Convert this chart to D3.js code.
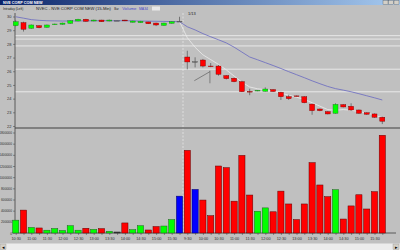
<!DOCTYPE html>
<html>
<head>
<meta charset="utf-8">
<script src="https://cdn.jsdelivr.net/npm/d3@7"></script>
<style>
  body { margin: 0; background: #c0c0c0; }
  svg { display: block; }
  text { font-family: "Liberation Sans", Arial, sans-serif; }
</style>
</head>
<body>
<div id="chart"></div>
<script>
// 15-min bars, two sessions (1/12 from 10:30, 1/13 full day)
var times = ["10:30","10:45","11:00","11:15","11:30","11:45","12:00","12:15","12:30","12:45","13:00","13:15",
  "13:30","13:45","14:00","14:15","14:30","14:45","15:00","15:15","15:30","15:45",
  "9:30","9:45","10:00","10:15","10:30","10:45","11:00","11:15","11:30","11:45","12:00","12:15",
  "12:30","12:45","13:00","13:15","13:30","13:45","14:00","14:15","14:30","14:45","15:00","15:15","15:30","15:45"];

var opens  = [29.33,29.55,29.14,29.33,29.21,29.40,29.43,29.50,29.67,29.80,29.67,29.74,29.67,29.70,29.74,29.58,29.55,29.60,29.52,29.35,29.50,29.64,
  27.04,26.70,26.82,26.38,26.38,25.68,25.49,25.24,24.52,24.56,24.54,24.66,24.46,24.14,24.20,24.14,23.60,23.24,23.05,22.93,23.56,23.44,23.17,22.97,22.88,22.64];
var closes = [29.62,29.07,29.38,29.18,29.38,29.45,29.52,29.69,29.80,29.65,29.74,29.62,29.74,29.70,29.68,29.67,29.65,29.47,29.38,29.52,29.62,29.64,
  26.68,26.70,26.38,26.36,25.78,25.46,25.24,24.51,24.50,24.60,24.70,24.52,24.14,24.00,24.17,23.70,23.12,23.12,22.88,23.58,23.39,23.17,22.93,22.86,22.64,22.35];
var highs  = [29.72,29.62,29.42,29.36,29.41,29.48,29.55,29.72,29.83,29.83,29.77,29.76,29.77,29.72,29.76,29.70,29.68,29.62,29.55,29.55,29.65,29.98,
  27.50,27.02,26.90,26.60,26.46,25.72,25.54,25.30,24.72,24.63,24.82,24.68,24.50,24.28,24.22,24.18,23.62,23.28,23.08,23.66,23.60,23.66,23.20,23.00,22.92,22.68];
var lows   = [29.28,28.90,29.10,29.14,29.18,29.38,29.40,29.47,29.65,29.62,29.65,29.60,29.65,29.68,29.66,29.56,29.53,29.45,29.30,29.33,29.48,29.60,
  26.14,26.28,26.28,26.30,25.68,25.40,25.20,24.48,24.25,24.54,24.52,24.50,23.90,23.90,24.16,23.66,22.82,23.08,22.85,22.90,23.36,23.10,22.90,22.82,22.60,22.14];

var volumes = [230000,410000,100000,90000,50000,80000,45000,130000,50000,85000,65000,78000,30000,18000,180000,60000,130000,54000,115000,125000,240000,660000,
  1480000,780000,590000,310000,1200000,1170000,570000,1390000,680000,390000,450000,380000,750000,520000,240000,520000,1260000,860000,650000,775000,250000,485000,685000,430000,740000,1750000];
var volumeKinds = ["g","r","g","r","g","g","g","g","g","r","g","r","g","k","r","g","g","r","r","g","g","b",
  "r","b","r","r","r","r","r","r","r","g","g","r","r","r","r","r","r","r","r","g","r","r","r","r","r","r"];

var ma34 = [29.98,29.88,29.77,29.72,29.69,29.68,29.67,29.67,29.68,29.68,29.69,29.69,29.69,29.69,29.69,29.68,29.67,29.66,29.65,29.64,29.63,29.62,
  29.25,29.02,28.75,28.52,28.30,28.07,27.76,27.40,27.04,26.84,26.63,26.42,26.20,25.97,25.75,25.53,25.30,25.09,24.89,24.73,24.62,24.50,24.36,24.21,24.06,23.90];
var maFast = [null,null,null,null,null,null,null,null,null,null,null,null,null,null,null,null,null,null,null,null,null,29.62,
  28.45,27.75,27.20,26.85,26.50,26.10,25.65,25.20,24.85,24.72,24.65,24.55,24.40,24.25,24.10,23.95,23.70,23.45,23.20,23.15,23.20,23.15,23.05,22.95,22.80,22.60];

var priceTicks = [22,23,24,25,26,27,28,29,30];
var volumeTicks = [0,200000,400000,600000,800000,1000000,1200000,1400000,1600000,1800000];
var levelLines = [28.6,28.35,27.85,26.15,24.5];
// hand-drawn marks on the chart: [bar1, price1, bar2, price2]
var drawnMarks = [[22.9,25.31,24.9,25.97],[24.9,26.04,24.9,25.12]];
var dayBreak = 21.45;
var dayLabel = "1/13";

var W = 400, H = 250;
var left = 15, right = 396;
var priceTop = 13, panelSplit = 128, volBottom = 233;

var svg = d3.select("#chart").append("svg")
    .attr("width", W).attr("height", H);

var defs = svg.append("defs");
var grad = defs.append("linearGradient").attr("id", "cap").attr("x1", 0).attr("x2", 1);
grad.append("stop").attr("offset", 0).attr("stop-color", "#0a246a");
grad.append("stop").attr("offset", 1).attr("stop-color", "#a6caf0");

svg.append("rect").attr("width", W).attr("height", H).attr("fill", "#c0c0c0");

// window caption
svg.append("rect").attr("width", W).attr("height", 5).attr("fill", "url(#cap)");
svg.append("text").attr("x", 3).attr("y", 4).attr("font-size", 3.8).attr("font-weight", "bold")
    .attr("fill", "#fff").text("NVE CORP COM NEW");
[383, 388.5, 394].forEach(function(bx) {
  svg.append("rect").attr("x", bx).attr("y", 0.5).attr("width", 5).attr("height", 4)
      .attr("fill", "#d4d0c8").attr("stroke", "#404040").attr("stroke-width", 0.3);
});

// header line: [text, x, width, colour]
var header = [
  ["Intraday (Left)", 3, 20.3, "#202020"],
  ["NVEC - NVE CORP COM NEW (15-Min)", 36, 75, "#202020"],
  ["Bar", 114.3, 4.5, "#202020"],
  ["Volume", 122.3, 14, "#4848c8"],
  ["MA34", 139, 9, "#4848c8"]
];
svg.append("g").selectAll("text").data(header).enter().append("text")
    .attr("x", function(d) { return d[1]; }).attr("y", 10)
    .attr("font-size", 4.4)
    .attr("textLength", function(d) { return d[2]; })
    .attr("lengthAdjust", "spacingAndGlyphs")
    .attr("fill", function(d) { return d[3]; })
    .text(function(d) { return d[0]; });
svg.append("rect").attr("x", 152).attr("y", 6.5).attr("width", 8).attr("height", 4).attr("fill", "#e8e8e8");

var x = d3.scaleLinear().domain([0, 47]).range([15.7, 382.3]);
var yP = d3.scaleLinear().domain([22, 30]).range([126, 16.5]);
var yV = d3.scaleLinear().domain([0, 1800000]).range([233, 132.5]);

// level lines
svg.append("g").selectAll("line").data(levelLines).enter().append("line")
    .attr("x1", left).attr("x2", W)
    .attr("y1", function(d) { return yP(d); }).attr("y2", function(d) { return yP(d); })
    .attr("stroke", "#f2f2f2").attr("stroke-width", 0.8);

// day separator
svg.append("line")
    .attr("x1", x(dayBreak)).attr("x2", x(dayBreak))
    .attr("y1", priceTop).attr("y2", volBottom)
    .attr("stroke", "#e6e6e6").attr("stroke-width", 0.8).attr("stroke-dasharray", "2,1.5");
svg.append("text").attr("x", x(dayBreak) + 5).attr("y", 14.5).attr("font-size", 4)
    .attr("fill", "#202020").text(dayLabel);

// axes
var gP = svg.append("g").attr("transform", "translate(" + left + ",0)")
    .call(d3.axisLeft(yP).tickValues(priceTicks).tickSize(2).tickPadding(1.5));
var gV = svg.append("g").attr("transform", "translate(" + left + ",0)")
    .call(d3.axisLeft(yV).tickValues(volumeTicks).tickSize(2).tickPadding(1).tickFormat(d3.format("d")));
[gP, gV].forEach(function(g) {
  g.select(".domain").remove();
  g.selectAll("line").attr("stroke", "#404040").attr("stroke-width", 0.5);
  g.selectAll("text").attr("font-size", 4).attr("fill", "#303030")
      .style("font-family", "'Liberation Sans', Arial, sans-serif");
});
gV.selectAll("text").attr("font-size", 3.3);

var gX = svg.append("g").attr("transform", "translate(0," + volBottom + ")")
    .call(d3.axisBottom(x).tickValues(d3.range(times.length)).tickSize(2).tickPadding(2.5)
      .tickFormat(function(i) { return /:(00|30)$/.test(times[i]) ? times[i] : ""; }));
gX.select(".domain").remove();
gX.selectAll("line").attr("stroke", "#404040").attr("stroke-width", 0.5);
gX.selectAll("text").attr("font-size", 3.8).attr("fill", "#303030")
    .style("font-family", "'Liberation Sans', Arial, sans-serif");

// frame lines
svg.append("line").attr("x1", left).attr("x2", left).attr("y1", priceTop).attr("y2", volBottom)
    .attr("stroke", "#404040").attr("stroke-width", 0.8);
svg.append("line").attr("x1", left).attr("x2", W).attr("y1", panelSplit).attr("y2", panelSplit)
    .attr("stroke", "#404040").attr("stroke-width", 1);
svg.append("line").attr("x1", left).attr("x2", right).attr("y1", volBottom).attr("y2", volBottom)
    .attr("stroke", "#404040").attr("stroke-width", 0.8);

// moving averages
var maLine = d3.line()
    .defined(function(d) { return d != null; })
    .x(function(d, i) { return x(i); })
    .y(function(d) { return yP(d); });
svg.append("path").datum(maFast).attr("d", maLine)
    .attr("fill", "none").attr("stroke", "#ececec").attr("stroke-width", 0.8);
svg.append("path").datum(ma34).attr("d", maLine)
    .attr("fill", "none").attr("stroke", "#6868c0").attr("stroke-width", 0.8);

// candles
var idx = d3.range(times.length);
var cw = 5;
function candleFill(i) {
  if (closes[i] > opens[i]) return "#00ff00";
  if (closes[i] < opens[i]) return "#ff0000";
  return "#606060";
}
function candleStroke(i) {
  if (closes[i] > opens[i]) return "#207020";
  if (closes[i] < opens[i]) return "#700000";
  return "#505050";
}
var candles = svg.append("g");
candles.selectAll(".wick").data(idx).enter().append("line")
    .attr("x1", function(i) { return x(i); }).attr("x2", function(i) { return x(i); })
    .attr("y1", function(i) { return yP(highs[i]); }).attr("y2", function(i) { return yP(lows[i]); })
    .attr("stroke", "#404040").attr("stroke-width", 0.6);
candles.selectAll(".body").data(idx).enter().append("rect")
    .attr("x", function(i) { return x(i) - cw / 2; })
    .attr("width", cw)
    .attr("y", function(i) { return yP(Math.max(opens[i], closes[i])); })
    .attr("height", function(i) { return Math.max(0.6, Math.abs(yP(opens[i]) - yP(closes[i]))); })
    .attr("fill", candleFill)
    .attr("stroke", candleStroke).attr("stroke-width", 0.4);

// hand-drawn marks
svg.append("g").selectAll("line").data(drawnMarks).enter().append("line")
    .attr("x1", function(d) { return x(d[0]); }).attr("y1", function(d) { return yP(d[1]); })
    .attr("x2", function(d) { return x(d[2]); }).attr("y2", function(d) { return yP(d[3]); })
    .attr("stroke", "#505050").attr("stroke-width", 0.6);

// volume bars
var volFill = { g: "#00ff00", r: "#ff0000", b: "#0000ff", k: "#404040" };
var volStroke = { g: "#206020", r: "#600000", b: "#000060", k: "#202020" };
var bw = 6.2;
svg.append("g").selectAll("rect").data(idx).enter().append("rect")
    .attr("x", function(i) { return x(i) - bw / 2; })
    .attr("width", bw)
    .attr("y", function(i) { return yV(volumes[i]); })
    .attr("height", function(i) { return yV(0) - yV(volumes[i]); })
    .attr("fill", function(i) { return volFill[volumeKinds[i]]; })
    .attr("stroke", function(i) { return volStroke[volumeKinds[i]]; })
    .attr("stroke-width", 0.5);

// scrollbar
svg.append("rect").attr("x", 0).attr("y", 243.5).attr("width", W).attr("height", 6.5).attr("fill", "#ececec");
[[0, "\u25C2"], [393, "\u25B8"]].forEach(function(b) {
  svg.append("rect").attr("x", b[0]).attr("y", 244).attr("width", 6).attr("height", 5.5)
      .attr("fill", "#d4d0c8").attr("stroke", "#808080").attr("stroke-width", 0.3);
  svg.append("text").attr("x", b[0] + 3).attr("y", 248.5).attr("text-anchor", "middle")
      .attr("font-size", 4.5).attr("fill", "#000").text(b[1]);
});
</script>
</body>
</html>
